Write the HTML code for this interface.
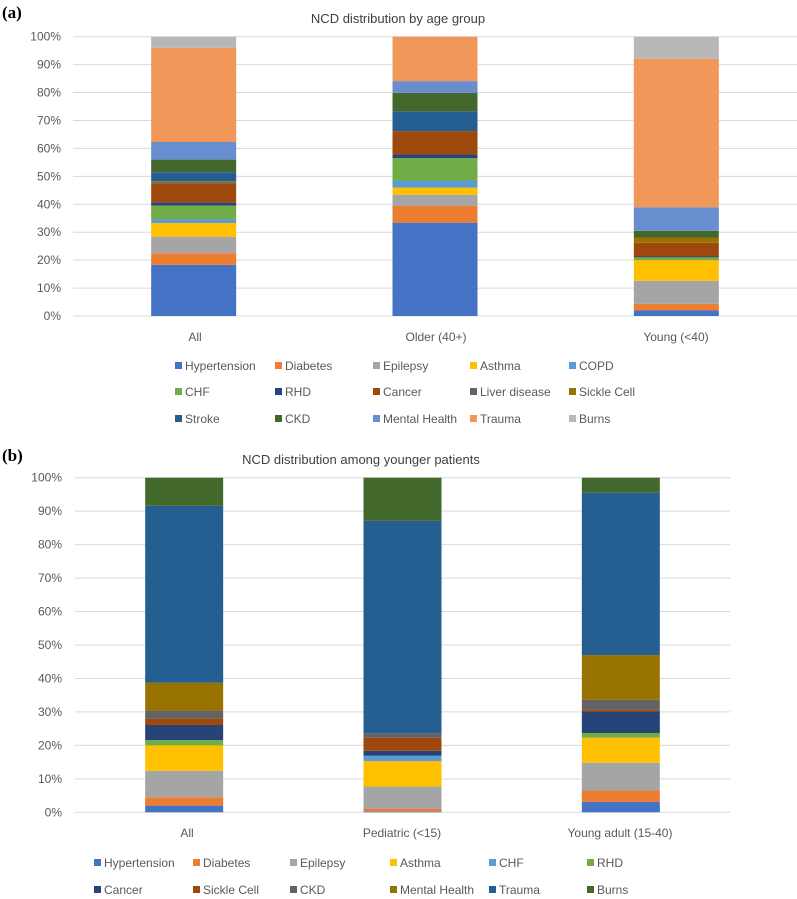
<!DOCTYPE html>
<html><head><meta charset="utf-8"><style>
body{margin:0;background:#fff;}
svg{display:block;font-family:"Liberation Sans",sans-serif;}
</style></head><body>
<svg id="c" width="797" height="899" viewBox="0 0 797 899" xmlns="http://www.w3.org/2000/svg">
<text x="2" y="18" font-family="Liberation Serif,serif" font-weight="bold" font-size="17">(a)</text>
<text x="398" y="23" text-anchor="middle" font-size="13" fill="#404040">NCD distribution by age group</text>
<text x="2" y="461" font-family="Liberation Serif,serif" font-weight="bold" font-size="17">(b)</text>
<text x="361" y="464" text-anchor="middle" font-size="13" fill="#404040">NCD distribution among younger patients</text>
</svg>
<script>
const catsA=["All","Older (40+)","Young  (<40)"];
const seriesA=["Hypertension","Diabetes","Epilepsy","Asthma","COPD","CHF","RHD","Cancer","Liver disease","Sickle Cell","Stroke","CKD","Mental Health","Trauma","Burns"];
const colorsA=["#4472C4","#ED7D31","#A5A5A5","#FFC000","#5B9BD5","#70AD47","#264478","#9E480E","#636363","#997300","#255E91","#43682B","#698ED0","#F1975A","#B7B7B7"];
const valsA_all=[18.3,4.2,5.9,4.9,1.4,4.8,1.1,6.7,0.5,0.5,3.2,4.5,6.3,33.7,4.0];
const valsA_older=[33.4,6.0,4.0,2.6,2.5,8.0,1.3,8.4,0,0,7.1,6.6,4.2,15.9,0];
const valsA_young=[2.0,2.4,8.2,7.4,0,1.0,0.3,4.9,0,1.9,0,2.4,8.4,53.2,7.9];
const catsB=["All","Pediatric (<15)","Young  adult (15-40)"];
const seriesB=["Hypertension","Diabetes","Epilepsy","Asthma","CHF","RHD","Cancer","Sickle Cell","CKD","Mental Health","Trauma","Burns"];
const colorsB=["#4472C4","#ED7D31","#A5A5A5","#FFC000","#5B9BD5","#70AD47","#264478","#9E480E","#636363","#997300","#255E91","#43682B"];
const valsB_all=[2.0,2.5,7.9,7.6,0,1.6,4.5,1.9,2.4,8.3,52.9,8.4];
const valsB_ped=[0.2,0.8,6.7,7.6,1.6,0,1.5,3.9,1.3,0,63.5,12.9];
const valsB_ya=[3.1,3.4,8.3,7.5,0,1.4,6.4,0.5,3.0,13.4,48.5,4.5];
const ticks=["0%","10%","20%","30%","40%","50%","60%","70%","80%","90%","100%"];
const NS="http://www.w3.org/2000/svg";
const svg=document.getElementById('c');
function mk(t,a,txt){const e=document.createElementNS(NS,t);for(const k in a)e.setAttribute(k,a[k]);if(txt!=null)e.textContent=txt;svg.appendChild(e);return e;}
function chart(cfg){
  const y=v=>cfg.y0-(cfg.y0-cfg.y100)*v/100;
  const band=(cfg.x1-cfg.x0)/cfg.cats.length;
  const xc=i=>cfg.x0+band*(i+0.5);
  ticks.forEach((t,i)=>{
    const v=i*10;
    const g=mk('line',{x1:cfg.x0,x2:cfg.x1,y1:y(v),y2:y(v),stroke:'#d9d9d9','stroke-width':1});
    
    
    const l=mk('text',{x:cfg.lx,y:y(v)+4,'text-anchor':'end','font-size':12,fill:'#595959'},t);
    
    
  });
  cfg.vals.forEach((arr,ci)=>{
    let acc=0;
    arr.forEach((v,si)=>{
      if(v>0){
        const r=mk('rect',{x:xc(ci)-cfg.bw/2,y:y(acc+v),width:cfg.bw,height:y(acc)-y(acc+v),fill:cfg.colors[si]});
        
        
      }
      acc+=v;
    });
    const c=mk('text',{x:cfg.clx[ci],y:cfg.cly,'text-anchor':'middle','font-size':12,fill:'#595959'},cfg.cats[ci]);
    
    
  });
  cfg.series.forEach((s,i)=>{
    const row=Math.floor(i/cfg.cols),col=i%cfg.cols;
    const mx=cfg.legX[col],my=cfg.legY[row];
    const m=mk('rect',{x:mx,y:my-4,width:7,height:7,fill:cfg.colors[i]});
    
    
    const t=mk('text',{x:mx+10,y:my+4,'font-size':12,fill:'#595959'},s);
    
    
  });
}
chart({cats:catsA,series:seriesA,colors:colorsA,vals:[valsA_all,valsA_older,valsA_young],x0:73,x1:797,y0:316,y100:36.7,bw:85,lx:61,clx:[195,436,676],cly:341,cols:5,legX:[175,275,373,470,569],legY:[366,392,419]});
chart({cats:catsB,series:seriesB,colors:colorsB,vals:[valsB_all,valsB_ped,valsB_ya],x0:75,x1:730,y0:812.3,y100:477.7,bw:78,lx:62,clx:[187,402,620],cly:837,cols:6,legX:[94,193,290,390,489,587],legY:[863,890]});
</script>
</body></html>
